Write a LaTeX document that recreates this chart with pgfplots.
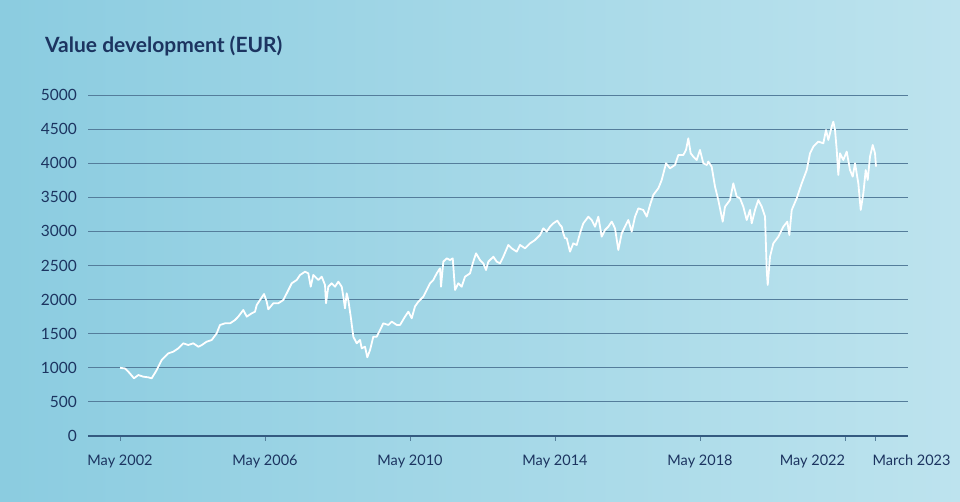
\documentclass[border=0pt]{standalone}
\usepackage{fontspec}
\setmainfont{Lato}
\usepackage{pgfplots}
\pgfplotsset{compat=1.18}
\definecolor{bgL}{RGB}{139,204,224}
\definecolor{bgR}{RGB}{189,227,238}
\definecolor{navy}{RGB}{28,52,96}
\definecolor{gridc}{RGB}{84,125,155}
\definecolor{axisc}{RGB}{52,90,128}
\pgfplotstableread{
m v
0 1000
1.66 990
2.75 943
4.63 846
6.06 894
7.71 870
9.37 860
10.49 846
12.15 968
13.80 1114
15.99 1212
17.64 1236
19.30 1286
20.95 1359
22.61 1334
24.26 1359
25.92 1309
27.05 1334
28.70 1383
30.36 1408
32.01 1506
33.10 1628
34.76 1652
36.41 1652
38.07 1701
39.16 1750
40.82 1848
41.94 1750
43.60 1799
44.69 1823
45.25 1921
46.34 1994
47.67 2082
48.56 1969
49.09 1858
50.75 1946
52.40 1946
54.06 1994
55.18 2092
56.84 2239
58.49 2287
59.59 2361
61.24 2409
62.33 2385
63.13 2189
63.99 2361
65.64 2287
66.77 2336
67.86 2214
68.19 1946
68.95 2189
70.08 2239
71.17 2189
72.26 2263
73.39 2189
73.92 2043
74.48 1872
75.04 2092
75.57 1994
76.37 1750
77.23 1456
78.35 1359
79.45 1408
80.01 1286
81.10 1309
81.86 1154
82.76 1261
83.85 1456
84.98 1456
86.07 1554
87.16 1652
88.82 1628
89.94 1677
91.60 1628
92.69 1628
94.34 1750
95.44 1823
96.56 1726
97.65 1900
98.75 1969
99.31 1994
100.40 2043
101.53 2141
102.62 2239
103.71 2287
104.84 2385
105.93 2459
106.26 2189
107.02 2556
108.15 2605
109.24 2580
110.14 2605
110.90 2141
111.99 2239
113.11 2189
114.21 2336
115.86 2385
116.95 2556
117.85 2678
119.17 2580
120.27 2531
121.16 2434
121.92 2556
123.58 2629
124.70 2556
125.79 2531
126.88 2629
128.54 2801
129.66 2752
131.32 2703
132.41 2801
134.07 2752
135.72 2825
137.38 2874
139.03 2947
140.13 3045
141.25 2996
142.34 3069
143.44 3118
144.76 3157
145.65 3094
146.21 3069
146.74 2972
147.31 2899
147.87 2899
148.96 2703
150.06 2825
151.18 2801
152.27 2972
153.37 3118
155.02 3216
156.15 3167
157.24 3069
158.33 3216
159.46 2923
160.55 3021
161.64 3069
162.77 3143
163.86 3045
164.95 2727
166.08 2972
167.17 3069
168.26 3167
169.39 2996
170.48 3216
171.58 3338
173.23 3314
174.36 3216
175.45 3387
176.54 3534
178.20 3632
179.32 3754
180.74 3999
182.07 3925
183.72 3974
184.81 4120
186.47 4120
187.36 4194
188.12 4365
188.91 4145
189.77 4096
190.90 4047
191.99 4194
193.08 4000
194.21 3974
194.74 4023
195.86 3949
196.96 3656
198.05 3460
199.51 3143
200.27 3362
201.92 3460
203.02 3705
204.14 3509
205.24 3485
206.33 3362
207.46 3167
208.55 3314
209.11 3118
210.21 3314
211.30 3460
212.43 3362
213.52 3216
214.08 2434
214.41 2214
215.17 2629
216.27 2825
217.92 2923
219.58 3069
220.90 3143
221.56 2947
222.36 3314
224.01 3485
225.67 3705
227.32 3900
228.41 4145
229.51 4243
231.16 4316
232.82 4292
233.71 4487
234.47 4341
235.60 4536
236.13 4609
236.69 4487
237.25 4194
237.78 3827
238.34 4145
239.43 4047
240.56 4170
241.65 3900
242.55 3803
243.31 3999
244.40 3705
245.20 3314
246.06 3558
246.85 3900
247.51 3754
248.27 4096
249.17 4267
249.93 4145
250.26 3949
}\valuedata
\begin{document}
\begin{tikzpicture}[x=1pt,y=1pt]
\shade[left color=bgL,right color=bgR] (0,0) rectangle (960,502);
\node[anchor=base west,inner sep=0,text=navy,font=\fontsize{21}{25}\selectfont\bfseries] at (45,449) {Value development (EUR)};
\begin{axis}[
  at={(88pt,66pt)}, anchor=south west,
  scale only axis, width=820pt, height=341pt,
  xmin=-10.6, xmax=260.85, ymin=0, ymax=5000,
  ytick={0,500,...,5000},
  xtick={0,48,96,144,192,240,250},
  xticklabels={May 2002,May 2006,May 2010,May 2014,May 2018,\llap{May 2022},\hspace*{-5pt}\rlap{March 2023}},
  ymajorgrids,
  major grid style={draw=gridc, line width=0.9pt},
  axis line style={draw=none},
  ytick style={draw=none},
  xtick style={draw=gridc, line width=0.9pt},
  tick align=outside, major tick length=5pt,
  xtick pos=lower,
  extra y ticks={0}, extra y tick labels={},
  extra y tick style={major grid style={draw=axisc, line width=1.4pt}},
  ticklabel style={font=\fontsize{14.5}{17}\selectfont, text=navy},
  yticklabel style={anchor=east, inner sep=0pt, xshift=-6pt, font=\fontsize{15.5}{18}\selectfont},
  xticklabel style={anchor=north, inner sep=0pt, yshift=-14pt},
  /pgf/number format/1000 sep={},
  /pgf/number format/assume math mode=true,
]
\addplot[white, line width=1.8pt, line join=round] table[x=m,y=v] {\valuedata};
\end{axis}
\end{tikzpicture}
\end{document}
